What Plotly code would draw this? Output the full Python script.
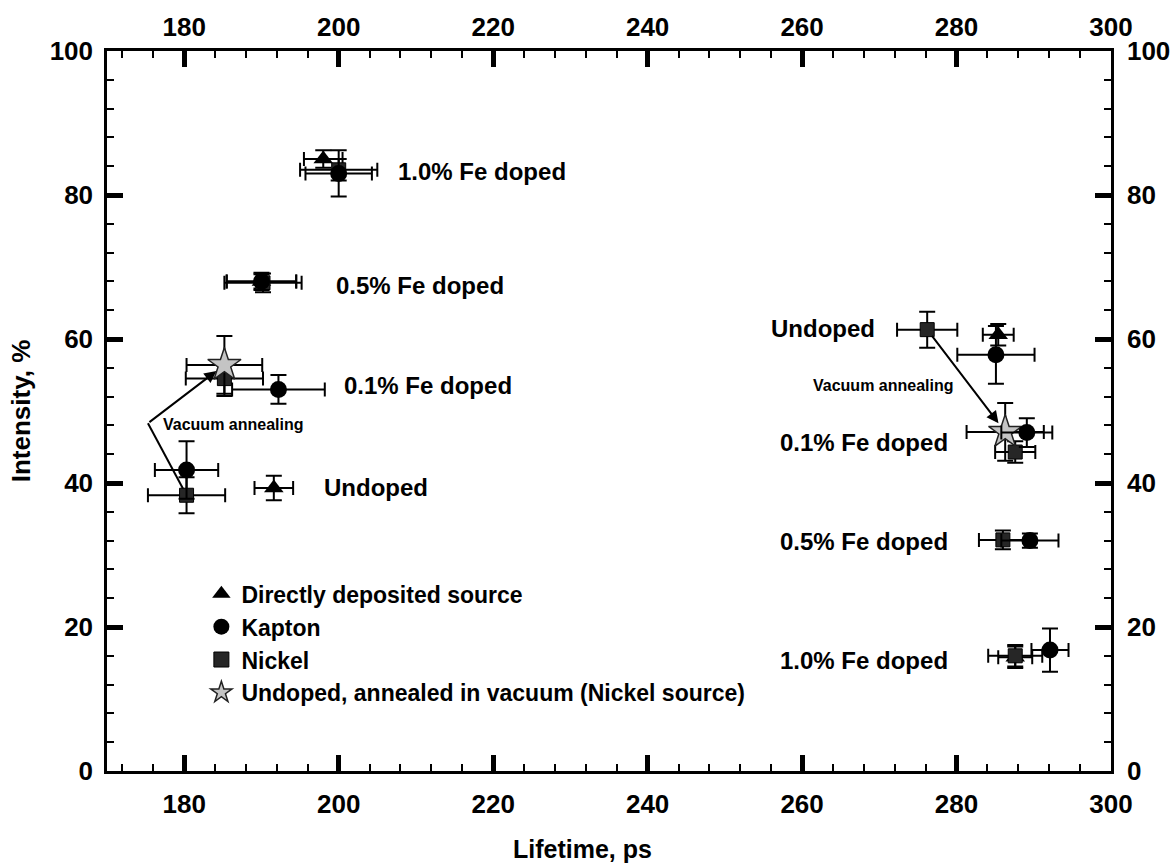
import plotly.graph_objects as go

# ---------------- data ----------------
# Directly deposited source (triangles)
tri_x = [198.0, 190.0, 191.6, 285.4, 287.6]
tri_y = [85.0, 68.0, 39.3, 60.6, 15.8]
tri_xerr = [2.5, 4.5, 2.5, 2.0, 2.2]
tri_yerr = [1.2, 1.0, 1.7, 1.5, 1.5]

# Kapton (circles)
kap_x = [200.0, 190.0, 192.2, 180.3, 285.1, 289.1, 289.5, 292.1]
kap_y = [83.0, 68.0, 53.0, 41.8, 57.8, 47.0, 32.0, 16.8]
kap_xerr = [4.3, 4.5, 6.0, 4.1, 5.0, 3.3, 3.7, 2.4]
kap_yerr = [3.2, 1.2, 2.0, 4.0, 4.0, 2.0, 1.0, 3.0]

# Nickel (squares)
nik_x = [200.0, 190.2, 185.2, 180.3, 276.2, 287.6, 286.0, 287.6]
nik_y = [83.5, 67.8, 54.5, 38.3, 61.3, 44.3, 32.1, 16.0]
nik_xerr = [5.0, 5.0, 5.0, 5.0, 3.9, 2.6, 3.1, 3.5]
nik_yerr = [1.5, 1.3, 2.4, 2.5, 2.5, 1.5, 1.3, 1.5]

# Undoped, annealed in vacuum (Nickel source) (stars)
star_x = [185.2, 286.3]
star_y = [56.4, 47.1]
star_xerr = [4.9, 5.0]
star_yerr = [4.0, 4.0]

# group labels
left_labels = ["1.0% Fe doped", "0.5% Fe doped", "0.1% Fe doped", "Undoped"]
left_label_x = [207.4, 199.4, 200.4, 197.8]
left_label_y = [83.2, 67.5, 53.5, 39.4]
right_labels = ["Undoped", "0.1% Fe doped", "0.5% Fe doped", "1.0% Fe doped"]
right_label_x = [269.7, 279.2, 279.2, 279.2]
right_label_y = [61.5, 45.6, 31.9, 15.3]

anneal_text = "Vacuum annealing"
anneal_text_x = [186.3, 270.5]
anneal_text_y = [48.1, 53.6]
left_arrow_corner = (175.3, 48.3)

x_range = [170, 300]
y_range = [0, 100]
x_ticks = [180, 200, 220, 240, 260, 280, 300]
y_ticks = [0, 20, 40, 60, 80, 100]

FONT = "Liberation Sans, Arial, sans-serif"

fig = go.Figure()


def err(vals, w):
    return dict(type="data", array=vals, visible=True, color="black",
                thickness=2, width=w)


# arrow first segment (left), from undoped Nickel point to corner
fig.add_trace(go.Scatter(
    x=[nik_x[3], left_arrow_corner[0]], y=[nik_y[3], left_arrow_corner[1]],
    mode="lines", line=dict(color="black", width=2), showlegend=False,
    hoverinfo="skip"))

fig.add_trace(go.Scatter(
    x=tri_x, y=tri_y, mode="markers", showlegend=False,
    marker=dict(symbol="triangle-up", size=17, color="black"),
    error_x=err(tri_xerr, 7), error_y=err(tri_yerr, 8)))
fig.add_trace(go.Scatter(
    x=nik_x, y=nik_y, mode="markers", showlegend=False,
    marker=dict(symbol="square", size=14, color="#262626",
                line=dict(color="black", width=1)),
    error_x=err(nik_xerr, 7), error_y=err(nik_yerr, 8)))
fig.add_trace(go.Scatter(
    x=star_x, y=star_y, mode="markers", showlegend=False,
    marker=dict(symbol="star", size=25, color="#c4c4c4",
                line=dict(color="#222222", width=1.5)),
    error_x=err(star_xerr, 7), error_y=err(star_yerr, 8)))
fig.add_trace(go.Scatter(
    x=kap_x, y=kap_y, mode="markers", showlegend=False,
    marker=dict(symbol="circle", size=17, color="black"),
    error_x=err(kap_xerr, 7), error_y=err(kap_yerr, 8)))

# legend-only entries
legend_items = [
    ("Directly deposited source", dict(symbol="triangle-up", size=18, color="black")),
    ("Kapton", dict(symbol="circle", size=17, color="black")),
    ("Nickel", dict(symbol="square", size=15, color="#262626", line=dict(color="black", width=1))),
    ("Undoped, annealed in vacuum (Nickel source)",
     dict(symbol="star", size=24, color="#c4c4c4", line=dict(color="#222222", width=1.5))),
]
for name, mk in legend_items:
    fig.add_trace(go.Scatter(x=[None], y=[None], mode="markers", name=name,
                             marker=mk, showlegend=True))

# dummy trace for the mirrored axes
fig.add_trace(go.Scatter(x=[None], y=[None], xaxis="x2", yaxis="y2",
                         showlegend=False, hoverinfo="skip"))

annotations = []
for t, x, y in zip(left_labels, left_label_x, left_label_y):
    annotations.append(dict(x=x, y=y, text=t, xanchor="left", yanchor="middle",
                            showarrow=False,
                            font=dict(family=FONT, size=24, color="black", weight="bold")))
for t, x, y in zip(right_labels, right_label_x, right_label_y):
    annotations.append(dict(x=x, y=y, text=t, xanchor="right", yanchor="middle",
                            showarrow=False,
                            font=dict(family=FONT, size=24, color="black", weight="bold")))
for x, y in zip(anneal_text_x, anneal_text_y):
    annotations.append(dict(x=x, y=y, text=anneal_text, showarrow=False,
                            font=dict(family=FONT, size=16, color="black", weight="bold")))
# x-axis title (offset left of centre as in the reference)
annotations.append(dict(x=0.474, y=-0.108, xref="paper", yref="paper",
                        text="Lifetime, ps", showarrow=False,
                        xanchor="center", yanchor="middle",
                        font=dict(family=FONT, size=25, color="black", weight="bold")))
# arrows
annotations.append(dict(x=star_x[0], y=star_y[0], ax=left_arrow_corner[0], ay=left_arrow_corner[1],
                        xref="x", yref="y", axref="x", ayref="y", text="",
                        showarrow=True, arrowhead=2, arrowsize=1.2, arrowwidth=2,
                        arrowcolor="black", standoff=10))
annotations.append(dict(x=star_x[1], y=star_y[1], ax=nik_x[4], ay=nik_y[4],
                        xref="x", yref="y", axref="x", ayref="y", text="",
                        showarrow=True, arrowhead=2, arrowsize=1.2, arrowwidth=2,
                        arrowcolor="black", standoff=11, startstandoff=6))

tickfont = dict(family=FONT, size=26, color="black", weight="bold")
minor = dict(ticks="inside", ticklen=7, tickwidth=2, tickcolor="black", dtick=4, tick0=0)
axis_common = dict(showgrid=False, zeroline=False, showline=True, linecolor="black",
                   linewidth=2.5, ticks="inside", ticklen=16, tickwidth=5,
                   tickcolor="black", tickfont=tickfont, minor=minor, automargin=False)

fig.update_layout(
    width=1176, height=864,
    margin=dict(l=107, r=65, t=51, b=93),
    paper_bgcolor="white", plot_bgcolor="white",
    font=dict(family=FONT, color="black"),
    xaxis=dict(range=x_range, tickvals=x_ticks, side="bottom",
               ticklabelstandoff=8, **axis_common),
    yaxis=dict(range=y_range, tickvals=y_ticks, side="left", ticklabelstandoff=6,
               title=dict(text="Intensity, %", standoff=12,
                          font=dict(family=FONT, size=26, color="black", weight="bold")),
               **axis_common),
    xaxis2=dict(range=x_range, tickvals=x_ticks, side="top", overlaying="x",
                anchor="y", ticklabelstandoff=2, **axis_common),
    yaxis2=dict(range=y_range, tickvals=y_ticks, side="right", overlaying="y",
                anchor="x", ticklabelstandoff=8, **axis_common),
    legend=dict(x=0.094, y=0.276, xanchor="left", yanchor="top",
                bgcolor="rgba(0,0,0,0)", borderwidth=0,
                font=dict(family=FONT, size=23, color="black", weight="bold")),
    annotations=annotations,
    showlegend=True,
)

fig.write_html("out.html")
